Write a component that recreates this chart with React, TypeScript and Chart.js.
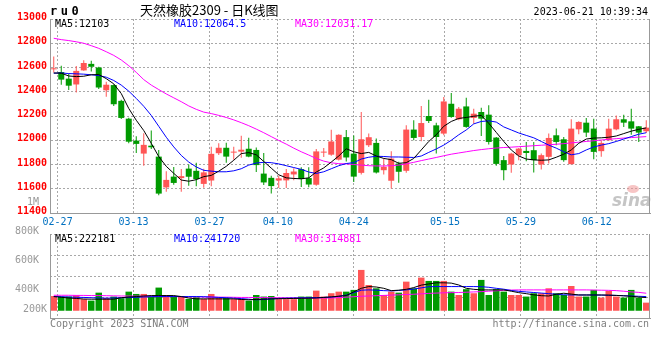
import React, { useEffect, useRef } from 'react';
import { Chart, registerables } from 'chart.js';

Chart.register(...registerables);

// ---------- data ----------
const DATES = [
  '02-24', '02-27', '02-28', '03-01', '03-02', '03-03', '03-06', '03-07', '03-08', '03-09',
  '03-10', '03-13', '03-14', '03-15', '03-16', '03-17', '03-20', '03-21', '03-22', '03-23',
  '03-24', '03-27', '03-28', '03-29', '03-30', '03-31', '04-03', '04-04', '04-06', '04-07',
  '04-10', '04-11', '04-12', '04-13', '04-14', '04-17', '04-18', '04-19', '04-20', '04-21',
  '04-24', '04-25', '04-26', '04-27', '04-28', '05-04', '05-05', '05-08', '05-09', '05-10',
  '05-11', '05-12', '05-15', '05-16', '05-17', '05-18', '05-19', '05-22', '05-23', '05-24',
  '05-25', '05-26', '05-29', '05-30', '05-31', '06-01', '06-02', '06-05', '06-06', '06-07',
  '06-08', '06-09', '06-12', '06-13', '06-14', '06-15', '06-16', '06-19', '06-20', '06-21',
];

const OPEN = [
  12585, 12563, 12508, 12460, 12576, 12630, 12600, 12412, 12455, 12325,
  12178, 11997, 11890, 11955, 11865, 11611, 11700, 11688, 11766, 11748,
  11640, 11668, 11893, 11938, 11898, 11906, 11930, 11920, 11725, 11690,
  11668, 11669, 11718, 11762, 11688, 11633, 11898, 11881, 11840, 12026,
  11890, 11731, 11959, 11978, 11753, 11666, 11808, 11748, 12088, 12027,
  12200, 12123, 12055, 12301, 12173, 12279, 12184, 12233, 12211, 12022,
  11836, 11800, 11877, 11912, 11918, 11800, 11863, 12041, 12008, 11803,
  12090, 12145, 12096, 11910, 12000, 12090, 12173, 12156, 12115, 12074,
];
const HIGH = [
  12690, 12615, 12550, 12612, 12660, 12656, 12606, 12482, 12460, 12335,
  12186, 12033, 12058, 12080, 11920, 11745, 11780, 11762, 11799, 11815,
  11765, 11947, 11975, 11980, 11947, 12037, 12020, 11940, 11895, 11708,
  11708, 11762, 11770, 11778, 11778, 11928, 11936, 12087, 12050, 12085,
  12040, 12233, 12055, 12014, 11849, 11910, 11822, 12123, 12164, 12282,
  12334, 12145, 12356, 12389, 12274, 12351, 12260, 12268, 12288, 12027,
  11871, 11896, 11937, 11986, 11986, 11890, 12055, 12096, 12027, 12173,
  12156, 12184, 12178, 12000, 12178, 12205, 12211, 12260, 12118, 12164,
];
const LOW = [
  12558, 12458, 12415, 12393, 12573, 12568, 12422, 12358, 12283, 12176,
  11975, 11895, 11790, 11928, 11546, 11576, 11634, 11576, 11625, 11620,
  11608, 11620, 11878, 11815, 11840, 11855, 11860, 11738, 11630, 11560,
  11606, 11606, 11670, 11615, 11612, 11625, 11862, 11873, 11832, 11825,
  11655, 11718, 11945, 11726, 11718, 11603, 11649, 11732, 12000, 11992,
  12142, 11890, 12041, 12186, 12165, 12104, 12137, 12036, 11964, 11789,
  11671, 11731, 11836, 11827, 11734, 11759, 11808, 11959, 11822, 11800,
  12049, 12027, 11844, 11863, 11995, 12082, 12110, 12046, 11986, 12060,
];
const CLOSE = [
  12592, 12500, 12450, 12572, 12637, 12606, 12435, 12458, 12297, 12184,
  11988, 11970, 11962, 11942, 11560, 11673, 11648, 11704, 11699, 11680,
  11735, 11888, 11938, 11865, 11905, 11922, 11865, 11795, 11652, 11622,
  11686, 11730, 11742, 11680, 11635, 11908, 11906, 11990, 12045, 11858,
  11700, 12008, 12025, 11734, 11781, 11849, 11740, 12088, 12019, 12142,
  12159, 12027, 12320, 12192, 12260, 12110, 12219, 12178, 11986, 11805,
  11753, 11890, 11931, 11895, 11836, 11877, 12019, 11986, 11836, 12096,
  12151, 12063, 11904, 11978, 12096, 12173, 12145, 12096, 12063, 12104,
];

const MA5 = [
  12555, 12553, 12530, 12525, 12528, 12540, 12542, 12508, 12465, 12385,
  12262, 12165, 12080, 11975, 11865, 11785, 11727, 11672, 11662, 11675,
  11700, 11710, 11745, 11785, 11835, 11890, 11898, 11880, 11825, 11770,
  11715, 11690, 11685, 11682, 11690, 11738, 11772, 11820, 11870, 11930,
  11905, 11890, 11900, 11870, 11850, 11840, 11810, 11815, 11850, 11920,
  11990, 12045, 12115, 12155, 12180, 12188, 12198, 12205, 12140, 12065,
  11990, 11920, 11870, 11845, 11838, 11835, 11838, 11860, 11885, 11920,
  11975, 12010, 12018, 12020, 12025, 12035, 12055, 12075, 12090, 12102,
];
const MA10 = [
  12553, 12555, 12550, 12548, 12545, 12540, 12533, 12520, 12493, 12455,
  12405, 12345, 12280, 12205, 12115, 12025, 11945, 11875, 11820, 11780,
  11752, 11745, 11740, 11740, 11748, 11765, 11795, 11812, 11818, 11815,
  11805, 11790, 11775, 11760, 11738, 11726, 11740, 11765, 11790, 11808,
  11815, 11845, 11860, 11868, 11866, 11862, 11862, 11860, 11858, 11870,
  11900, 11928, 11960, 12000, 12045, 12085, 12135, 12155, 12160, 12150,
  12110, 12085, 12060, 12040, 12020, 11990, 11960, 11935, 11905, 11880,
  11890, 11920, 11945, 11960, 11972, 11990, 12010, 12030, 12050, 12062,
];
const MA30 = [
  12841, 12830, 12822, 12812, 12800, 12780, 12758, 12730, 12700, 12662,
  12615, 12560, 12500, 12455, 12418, 12382, 12350, 12318, 12283, 12255,
  12232, 12220, 12205, 12188, 12168, 12145, 12120, 12092, 12062, 12030,
  11998, 11968, 11935, 11905, 11878, 11850, 11828, 11814, 11807, 11805,
  11800, 11795, 11790, 11788, 11788, 11790, 11795, 11805, 11818, 11832,
  11845, 11858, 11872, 11885, 11895, 11905, 11915, 11923, 11930, 11936,
  11940, 11943, 11947, 11951, 11955, 11959, 11963, 11967, 11972, 11978,
  11984, 11990, 11996, 12002, 12008, 12013, 12018, 12022, 12026, 12030,
];

const VOLUME = [
  372000, 368000, 368000, 377000, 350000, 340000, 395000, 357000, 368000, 357000,
  402000, 386000, 386000, 368000, 430000, 379000, 372000, 368000, 352000, 363000,
  352000, 386000, 363000, 357000, 350000, 352000, 340000, 379000, 368000, 372000,
  350000, 350000, 350000, 368000, 368000, 409000, 368000, 391000, 402000, 402000,
  414000, 552000, 448000, 425000, 379000, 402000, 395000, 471000, 425000, 499000,
  476000, 476000, 476000, 402000, 379000, 419000, 391000, 483000, 379000, 419000,
  402000, 379000, 379000, 368000, 391000, 391000, 425000, 391000, 379000, 441000,
  368000, 368000, 414000, 361000, 407000, 368000, 361000, 414000, 361000, 326000,
];
const VMA5 = [
  368000, 363000, 358000, 355000, 351000, 350000, 350000, 350000, 350000, 360000,
  365000, 368000, 372000, 375000, 375000, 375000, 375000, 368000, 358000, 352000,
  352000, 352000, 352000, 352000, 352000, 348000, 346000, 348000, 350000, 352000,
  353000, 354000, 355000, 356000, 357000, 358000, 362000, 366000, 370000, 375000,
  400000, 425000, 437000, 434000, 425000, 409000, 412000, 418000, 430000, 447000,
  455000, 463000, 463000, 461000, 448000, 425000, 418000, 414000, 414000, 414000,
  414000, 405000, 395000, 388000, 380000, 374000, 372000, 384000, 391000, 385000,
  379000, 379000, 379000, 379000, 378000, 376000, 373000, 370000, 365000, 361000,
];
const VMA10 = [
  368000, 367000, 365000, 363000, 362000, 360000, 358000, 357000, 358000, 360000,
  361000, 363000, 365000, 367000, 368000, 368000, 368000, 368000, 368000, 368000,
  367000, 365000, 362000, 360000, 357000, 354000, 350000, 346000, 348000, 352000,
  355000, 357000, 358000, 359000, 360000, 361000, 362000, 364000, 370000, 378000,
  395000, 412000, 414000, 412000, 409000, 407000, 410000, 414000, 420000, 428000,
  436000, 437000, 437000, 437000, 437000, 437000, 437000, 436000, 432000, 425000,
  419000, 410000, 404000, 400000, 396000, 392000, 388000, 384000, 380000, 379000,
  379000, 379000, 379000, 378000, 377000, 376000, 374000, 372000, 370000, 368000,
];
const VMA30 = [
  377000, 377000, 377000, 376000, 376000, 375000, 375000, 374000, 373000, 372000,
  372000, 371000, 370000, 370000, 369000, 368000, 368000, 367000, 366000, 366000,
  365000, 365000, 364000, 364000, 363000, 362000, 362000, 361000, 361000, 360000,
  360000, 359000, 359000, 358000, 358000, 358000, 358000, 358000, 361000, 364000,
  367000, 370000, 372000, 374000, 376000, 378000, 380000, 382000, 384000, 387000,
  390000, 392000, 394000, 395000, 396000, 398000, 400000, 402000, 405000, 408000,
  411000, 413000, 414000, 414000, 414000, 414000, 414000, 414000, 414000, 414000,
  414000, 414000, 413000, 412000, 411000, 409000, 405000, 400000, 397000, 391000,
];

const DATE_TICKS = ['02-27', '03-13', '03-27', '04-10', '04-24', '05-15', '05-29', '06-12'];
const PRICE_TICKS = [11400, 11600, 11800, 12000, 12200, 12400, 12600, 12800, 13000];
const VOLUME_TICKS = [400000, 600000, 800000, 1000000];
const VOLUME_FLOOR_LABEL = '200K';

const SYMBOL = 'ru0';
const TITLE = '天然橡胶2309 - 日K线图';
const TIMESTAMP = '2023-06-21 10:39:34';
const PRICE_LEGEND = ['MA5:12103', 'MA10:12064.5', 'MA30:12031.17'];
const VOLUME_LEGEND = ['MA5:222181', 'MA10:241720', 'MA30:314881'];
const COPYRIGHT = 'Copyright 2023 SINA.COM';
const URL_TEXT = 'http://finance.sina.com.cn';
const WATERMARK = 'sina';

// ---------- styles ----------
const MONO = '"DejaVu Sans Mono", monospace';
const UP = '#ff5555';
const DOWN = '#009a00';
const GRID = '#a8a8a8';
const AXIS = '#999999';
const MA_COLORS = ['#000000', '#0000ff', '#ff00ff'];
const LEGEND_X = [55, 174, 295];
const VOL_BASE = 270000;

const N = DATES.length;
const GRID_SCALE = N / (N - 1);
const isUp = CLOSE.map((c, i) => c >= OPEN[i]);
const candleColors = isUp.map((u) => (u ? UP : DOWN));
const tickValue = (d: string) => DATES.indexOf(d) * GRID_SCALE - 0.5;

const xScale = (showLabels: boolean): any => ({
  type: 'linear',
  min: -0.5,
  max: N - 0.5,
  offset: false,
  afterBuildTicks: (s: any) => {
    s.ticks = DATE_TICKS.map((d) => ({ value: tickValue(d) }));
  },
  afterFit: (s: any) => {
    s.height = showLabels ? 15 : 0;
  },
  ticks: {
    display: showLabels,
    autoSkip: false,
    maxRotation: 0,
    minRotation: 0,
    padding: 3,
    color: '#0070c0',
    font: { family: MONO, size: 10 },
    callback: (_v: any, idx: number) => DATE_TICKS[idx],
  },
  grid: { color: GRID, drawTicks: false, offset: false, lineWidth: 1 },
  border: { display: true, color: AXIS, width: 1, dash: [2, 2], z: 1 },
});

const lineDs = (vals: number[], color: string) => ({
  type: 'line' as const,
  data: vals.map((v, i) => ({ x: i, y: v })),
  borderColor: color,
  borderWidth: 1,
  pointRadius: 0,
  tension: 0,
  fill: false,
  order: 0,
});

const rightBorder = (chart: any) => {
  const { ctx, chartArea } = chart;
  ctx.save();
  ctx.strokeStyle = AXIS;
  ctx.lineWidth = 1;
  ctx.setLineDash([]);
  const x = Math.round(chartArea.right) - 0.5;
  ctx.beginPath();
  ctx.moveTo(x, Math.round(chartArea.top));
  ctx.lineTo(x, Math.round(chartArea.bottom) + 1);
  ctx.stroke();
  ctx.restore();
};

const pricePlugin = {
  id: 'priceText',
  afterDraw(chart: any) {
    rightBorder(chart);
    const { ctx } = chart;
    ctx.save();
    ctx.textBaseline = 'middle';
    // symbol
    ctx.fillStyle = '#000';
    ctx.font = `bold 12px ${MONO}`;
    ctx.textAlign = 'left';
    (ctx as any).letterSpacing = '3.5px';
    ctx.fillText(SYMBOL, 50, 12);
    (ctx as any).letterSpacing = '0px';
    // title
    ctx.font = '13px "Noto Sans CJK SC", sans-serif';
    ctx.fillText(TITLE, 140, 10);
    // timestamp
    ctx.font = `10px ${MONO}`;
    ctx.textAlign = 'right';
    ctx.fillText(TIMESTAMP, 648, 12);
    // legend
    ctx.textAlign = 'left';
    PRICE_LEGEND.forEach((t, i) => {
      ctx.fillStyle = MA_COLORS[i];
      ctx.fillText(t, LEGEND_X[i], 24);
    });
    // watermark
    ctx.fillStyle = 'rgba(240,150,150,0.55)';
    ctx.beginPath();
    ctx.ellipse(633, 189, 6, 4, 0, 0, Math.PI * 2);
    ctx.fill();
    ctx.fillStyle = 'rgba(150,150,150,0.55)';
    ctx.font = 'italic bold 17px "DejaVu Sans", sans-serif';
    ctx.textBaseline = 'alphabetic';
    ctx.fillText(WATERMARK, 612, 206);
    ctx.restore();
  },
};

const volumePlugin = {
  id: 'volumeText',
  afterDraw(chart: any) {
    rightBorder(chart);
    const { ctx } = chart;
    const y = chart.scales.y;
    ctx.save();
    ctx.textBaseline = 'middle';
    ctx.font = `10px ${MONO}`;
    ctx.textAlign = 'left';
    VOLUME_LEGEND.forEach((t, i) => {
      ctx.fillStyle = MA_COLORS[i];
      ctx.fillText(t, LEGEND_X[i], 239);
    });
    ctx.fillStyle = '#999';
    ctx.textAlign = 'right';
    ctx.fillText(VOLUME_FLOOR_LABEL, 47, y.getPixelForValue(VOL_BASE) - 1);
    ctx.fillStyle = '#808080';
    ctx.textAlign = 'left';
    ctx.fillText(COPYRIGHT, 50, 324);
    ctx.textAlign = 'right';
    ctx.fillText(URL_TEXT, 649, 324);
    ctx.restore();
  },
};

export default function App() {
  const priceRef = useRef<HTMLCanvasElement>(null);
  const volRef = useRef<HTMLCanvasElement>(null);

  useEffect(() => {
    const idx = DATES.map((_, i) => i);
    const price = new Chart(priceRef.current as HTMLCanvasElement, {
      type: 'bar',
      data: {
        datasets: [
          lineDs(MA5, MA_COLORS[0]),
          lineDs(MA10, MA_COLORS[1]),
          lineDs(MA30, MA_COLORS[2]),
          {
            type: 'bar',
            data: idx.map((i) => ({ x: i, y: [Math.min(OPEN[i], CLOSE[i]), Math.max(OPEN[i], CLOSE[i])] })),
            backgroundColor: candleColors,
            barThickness: 6,
            minBarLength: 1,
            grouped: false,
            inflateAmount: 0,
            order: 1,
          },
          {
            type: 'bar',
            data: idx.map((i) => ({ x: i, y: [LOW[i], HIGH[i]] })),
            backgroundColor: candleColors,
            barThickness: 1,
            grouped: false,
            inflateAmount: 0,
            order: 2,
          },
        ] as any,
      },
      options: {
        responsive: false,
        animation: false,
        devicePixelRatio: 1,
        layout: { padding: { left: 0, right: 10, top: 19, bottom: 132 } },
        plugins: { legend: { display: false }, tooltip: { enabled: false } },
        scales: {
          x: xScale(true),
          y: {
            type: 'linear',
            min: 11400,
            max: 13000,
            afterBuildTicks: (s: any) => {
              s.ticks = PRICE_TICKS.map((v) => ({ value: v }));
            },
            afterFit: (s: any) => {
              s.width = 50;
            },
            ticks: {
              autoSkip: false,
              padding: 3,
              labelOffset: -1.5,
              color: '#ff0000',
              font: { family: MONO, size: 10, weight: 'bold' },
              callback: (v: any) => String(v),
            },
            grid: { color: GRID, drawTicks: false },
            border: { display: true, color: AXIS, width: 1, dash: [2, 2], z: 1 },
          },
        } as any,
      },
      plugins: [pricePlugin],
    } as any);

    const volume = new Chart(volRef.current as HTMLCanvasElement, {
      type: 'bar',
      data: {
        datasets: [
          lineDs(VMA5, MA_COLORS[0]),
          lineDs(VMA10, MA_COLORS[1]),
          lineDs(VMA30, MA_COLORS[2]),
          {
            type: 'bar',
            data: idx.map((i) => ({ x: i, y: VOLUME[i] })),
            backgroundColor: candleColors,
            barThickness: 6.5,
            base: VOL_BASE,
            grouped: false,
            inflateAmount: 0,
            order: 1,
          },
        ] as any,
      },
      options: {
        responsive: false,
        animation: false,
        devicePixelRatio: 1,
        layout: { padding: { left: 0, right: 10, top: 234, bottom: 42 } },
        plugins: { legend: { display: false }, tooltip: { enabled: false } },
        scales: {
          x: xScale(false),
          y: {
            type: 'linear',
            position: 'left',
            min: 220000,
            max: 800000,
            afterBuildTicks: (s: any) => {
              s.ticks = VOLUME_TICKS.map((v) => ({ value: v }));
            },
            afterFit: (s: any) => {
              s.width = 50;
            },
            ticks: {
              autoSkip: false,
              padding: 3,
              labelOffset: -2.5,
              color: '#999999',
              font: { family: MONO, size: 10 },
              callback: (v: any) => (v >= 1000000 ? `${v / 1000000}M` : `${v / 1000}K`),
            },
            grid: { display: false },
            border: { display: true, color: AXIS, width: 1, z: 1 },
          },
          g: {
            type: 'linear',
            position: 'left',
            min: 0,
            max: 4,
            afterBuildTicks: (s: any) => {
              s.ticks = [1, 2, 3, 4].map((v) => ({ value: v }));
            },
            afterFit: (s: any) => {
              s.width = 0;
            },
            ticks: { display: false },
            grid: { color: GRID, drawTicks: false },
            border: { display: false, dash: [2, 2] },
          },
        } as any,
      },
      plugins: [volumePlugin],
    } as any);

    return () => {
      price.destroy();
      volume.destroy();
    };
  }, []);

  return (
    <div style={{ position: 'absolute', left: 0, top: 0, width: 660, height: 360, background: '#fff' }}>
      <canvas ref={priceRef} width={660} height={360} style={{ position: 'absolute', left: 0, top: 0 }} />
      <canvas ref={volRef} width={660} height={360} style={{ position: 'absolute', left: 0, top: 0 }} />
    </div>
  );
}
